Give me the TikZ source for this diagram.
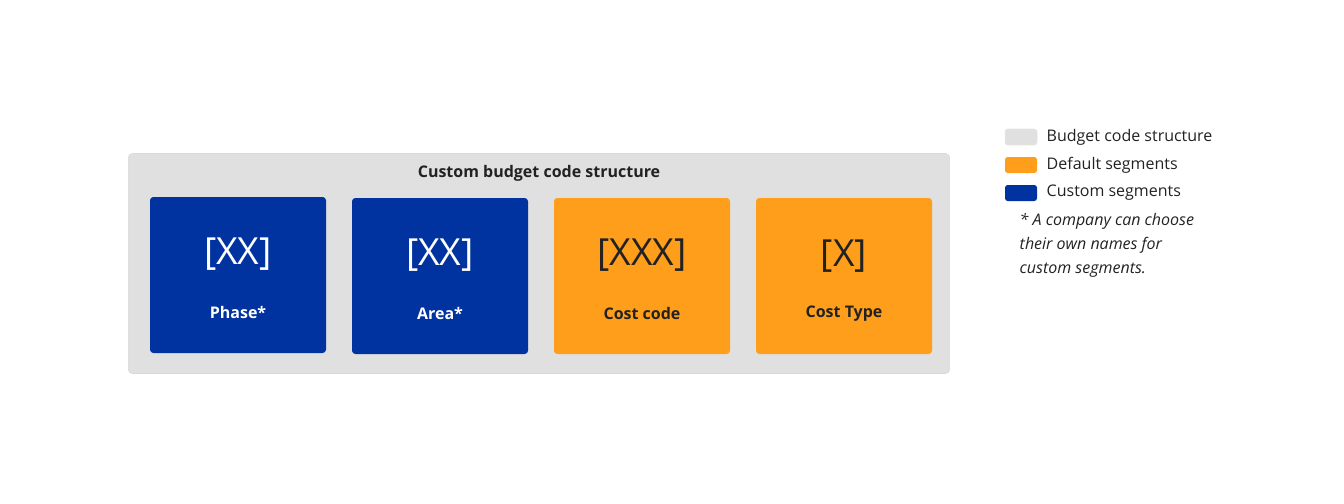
\documentclass[tikz,border=0pt]{standalone}
\usepackage{fontspec}
\setmainfont{Open Sans}
\definecolor{cblue}{HTML}{0033A0}
\definecolor{corange}{HTML}{FF9E1B}
\definecolor{cgrey}{HTML}{E0E0E0}
\definecolor{ctext}{HTML}{222222}
\begin{document}
\begin{tikzpicture}[x=0.75pt,y=-0.75pt,
  seg/.style={rounded corners=2.5pt,minimum width=132pt,minimum height=117pt,inner sep=0pt},
  big/.style={font=\fontsize{28}{30}\selectfont},
  lab/.style={font=\fontsize{12}{14}\selectfont\bfseries},
  sw/.style={rounded corners=2pt,minimum width=24pt,minimum height=12pt,inner sep=0pt},
  leg/.style={font=\fontsize{12}{14}\selectfont,text=ctext,anchor=west}]
\useasboundingbox (0,0) rectangle (1344,503);
\node[draw=black!15,fill=cgrey,rounded corners=3pt,minimum width=616pt,minimum height=165pt,inner sep=0pt] (outer) at (539,263.5) {};
\node[font=\fontsize{12}{14}\selectfont\bfseries,text=ctext] (title) at (539,173) {Custom budget code structure};
\node[seg,fill=cblue] (s1) at (238,275) {};
\node[seg,fill=cblue] (s2) at (440,276) {};
\node[seg,fill=corange] (s3) at (642,276) {};
\node[seg,fill=corange] (s4) at (844,276) {};
\node[big,text=white] (t1) at (238,254) {[XX]};
\node[big,text=white] (t2) at (440,255) {[XX]};
\node[big,text=ctext] (t3) at (642,255) {[XXX]};
\node[big,text=ctext] (t4) at (844,256) {[X]};
\node[lab,text=white] (l1) at (238,312) {Phase*};
\node[lab,text=white] (l2) at (440,313) {Area*};
\node[lab,text=ctext] (l3) at (642,313) {Cost code};
\node[lab,text=ctext] (l4) at (844,314) {Cost Type};
\node[sw,fill=cgrey,draw=black!10] (w1) at (1021,137) {};
\node[sw,fill=corange] (w2) at (1021,165) {};
\node[sw,fill=cblue] (w3) at (1021,193) {};
\node[leg] (g1) at (1042,137) {Budget code structure};
\node[leg] (g2) at (1042,165) {Default segments};
\node[leg] (g3) at (1042,193) {Custom segments};
\node[leg,font=\fontsize{12}{18}\selectfont\itshape,align=left,anchor=north west] (note) at (1015,209) {* A company can choose\\their own names for\\custom segments.};
\end{tikzpicture}
\end{document}
